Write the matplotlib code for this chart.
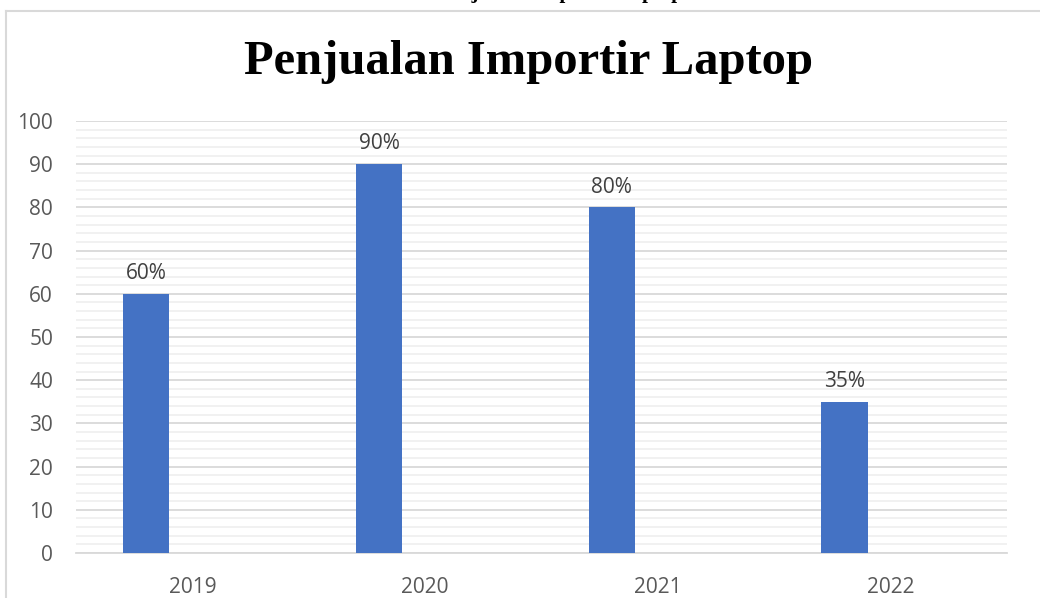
import matplotlib
matplotlib.use("Agg")
import matplotlib.pyplot as plt
from matplotlib.lines import Line2D
import numpy as np

categories = ["2019", "2020", "2021", "2022"]
values = [60, 90, 80, 35]
labels = ["60%", "90%", "80%", "35%"]
title = "Penjualan Importir Laptop"
yticks = [0, 10, 20, 30, 40, 50, 60, 70, 80, 90, 100]

W, H = 1040, 598
fig = plt.figure(figsize=(W / 100, H / 100), dpi=100)
fig.patch.set_facecolor("white")

FONT = ["Open Sans", "DejaVu Sans"]
ax = fig.add_axes([76 / W, 45 / H, (1007 - 76) / W, (553 - 121) / H])
x = np.arange(len(categories))
bw = 0.198
bars = ax.bar(x - bw, values, width=bw, color="#4472C4", zorder=3)

for xi, v, lab in zip(x, values, labels):
    ax.annotate(lab, (xi - bw, v), xytext=(0, 7), textcoords="offset points",
                ha="center", va="bottom", fontsize=15, color="#404040",
                family=FONT)

ax.set_xlim(-0.5, len(categories) - 0.5)
ax.set_ylim(0, 100)
ax.set_yticks(yticks)
ax.set_yticks(np.arange(0, 101, 2), minor=True)
ax.set_xticks(x)
ax.set_xticklabels(categories)
ax.tick_params(axis="both", which="both", length=0, colors="#595959", labelsize=15)
ax.tick_params(axis="y", pad=16.5)
ax.tick_params(axis="x", pad=17.5)
for t in ax.get_xticklabels() + ax.get_yticklabels():
    t.set_family(FONT)
ax.grid(axis="y", which="minor", color="#f0f0f0", linewidth=1.3, zorder=0)
ax.grid(axis="y", which="major", color="#d9d9d9", linewidth=1.3, zorder=1)
ax.grid(axis="x", visible=False)
for s in ["top", "right", "left"]:
    ax.spines[s].set_visible(False)
ax.spines["bottom"].set_color("#d9d9d9")
ax.spines["bottom"].set_linewidth(1.3)
ax.set_facecolor("none")

fig.text(528 / W, 1 - 62 / H, title, ha="center", va="center",
         fontsize=35, fontweight="bold", family=["Liberation Serif", "DejaVu Serif"])

# border of chart area
fig.add_artist(Line2D([5.5 / W, 5.5 / W], [0, 1 - 10.5 / H], color="#d9d9d9", linewidth=1.5))
fig.add_artist(Line2D([5.5 / W, 1], [1 - 10.5 / H, 1 - 10.5 / H], color="#d9d9d9", linewidth=1.5))

# partially visible caption at very top (cut off in the reference too)
fig.text(560 / W, 1 + 2 / H, title, ha="center", va="baseline",
         fontsize=15, fontweight="bold", family=["Liberation Serif", "DejaVu Serif"])

fig.savefig("out.png", dpi=100)
